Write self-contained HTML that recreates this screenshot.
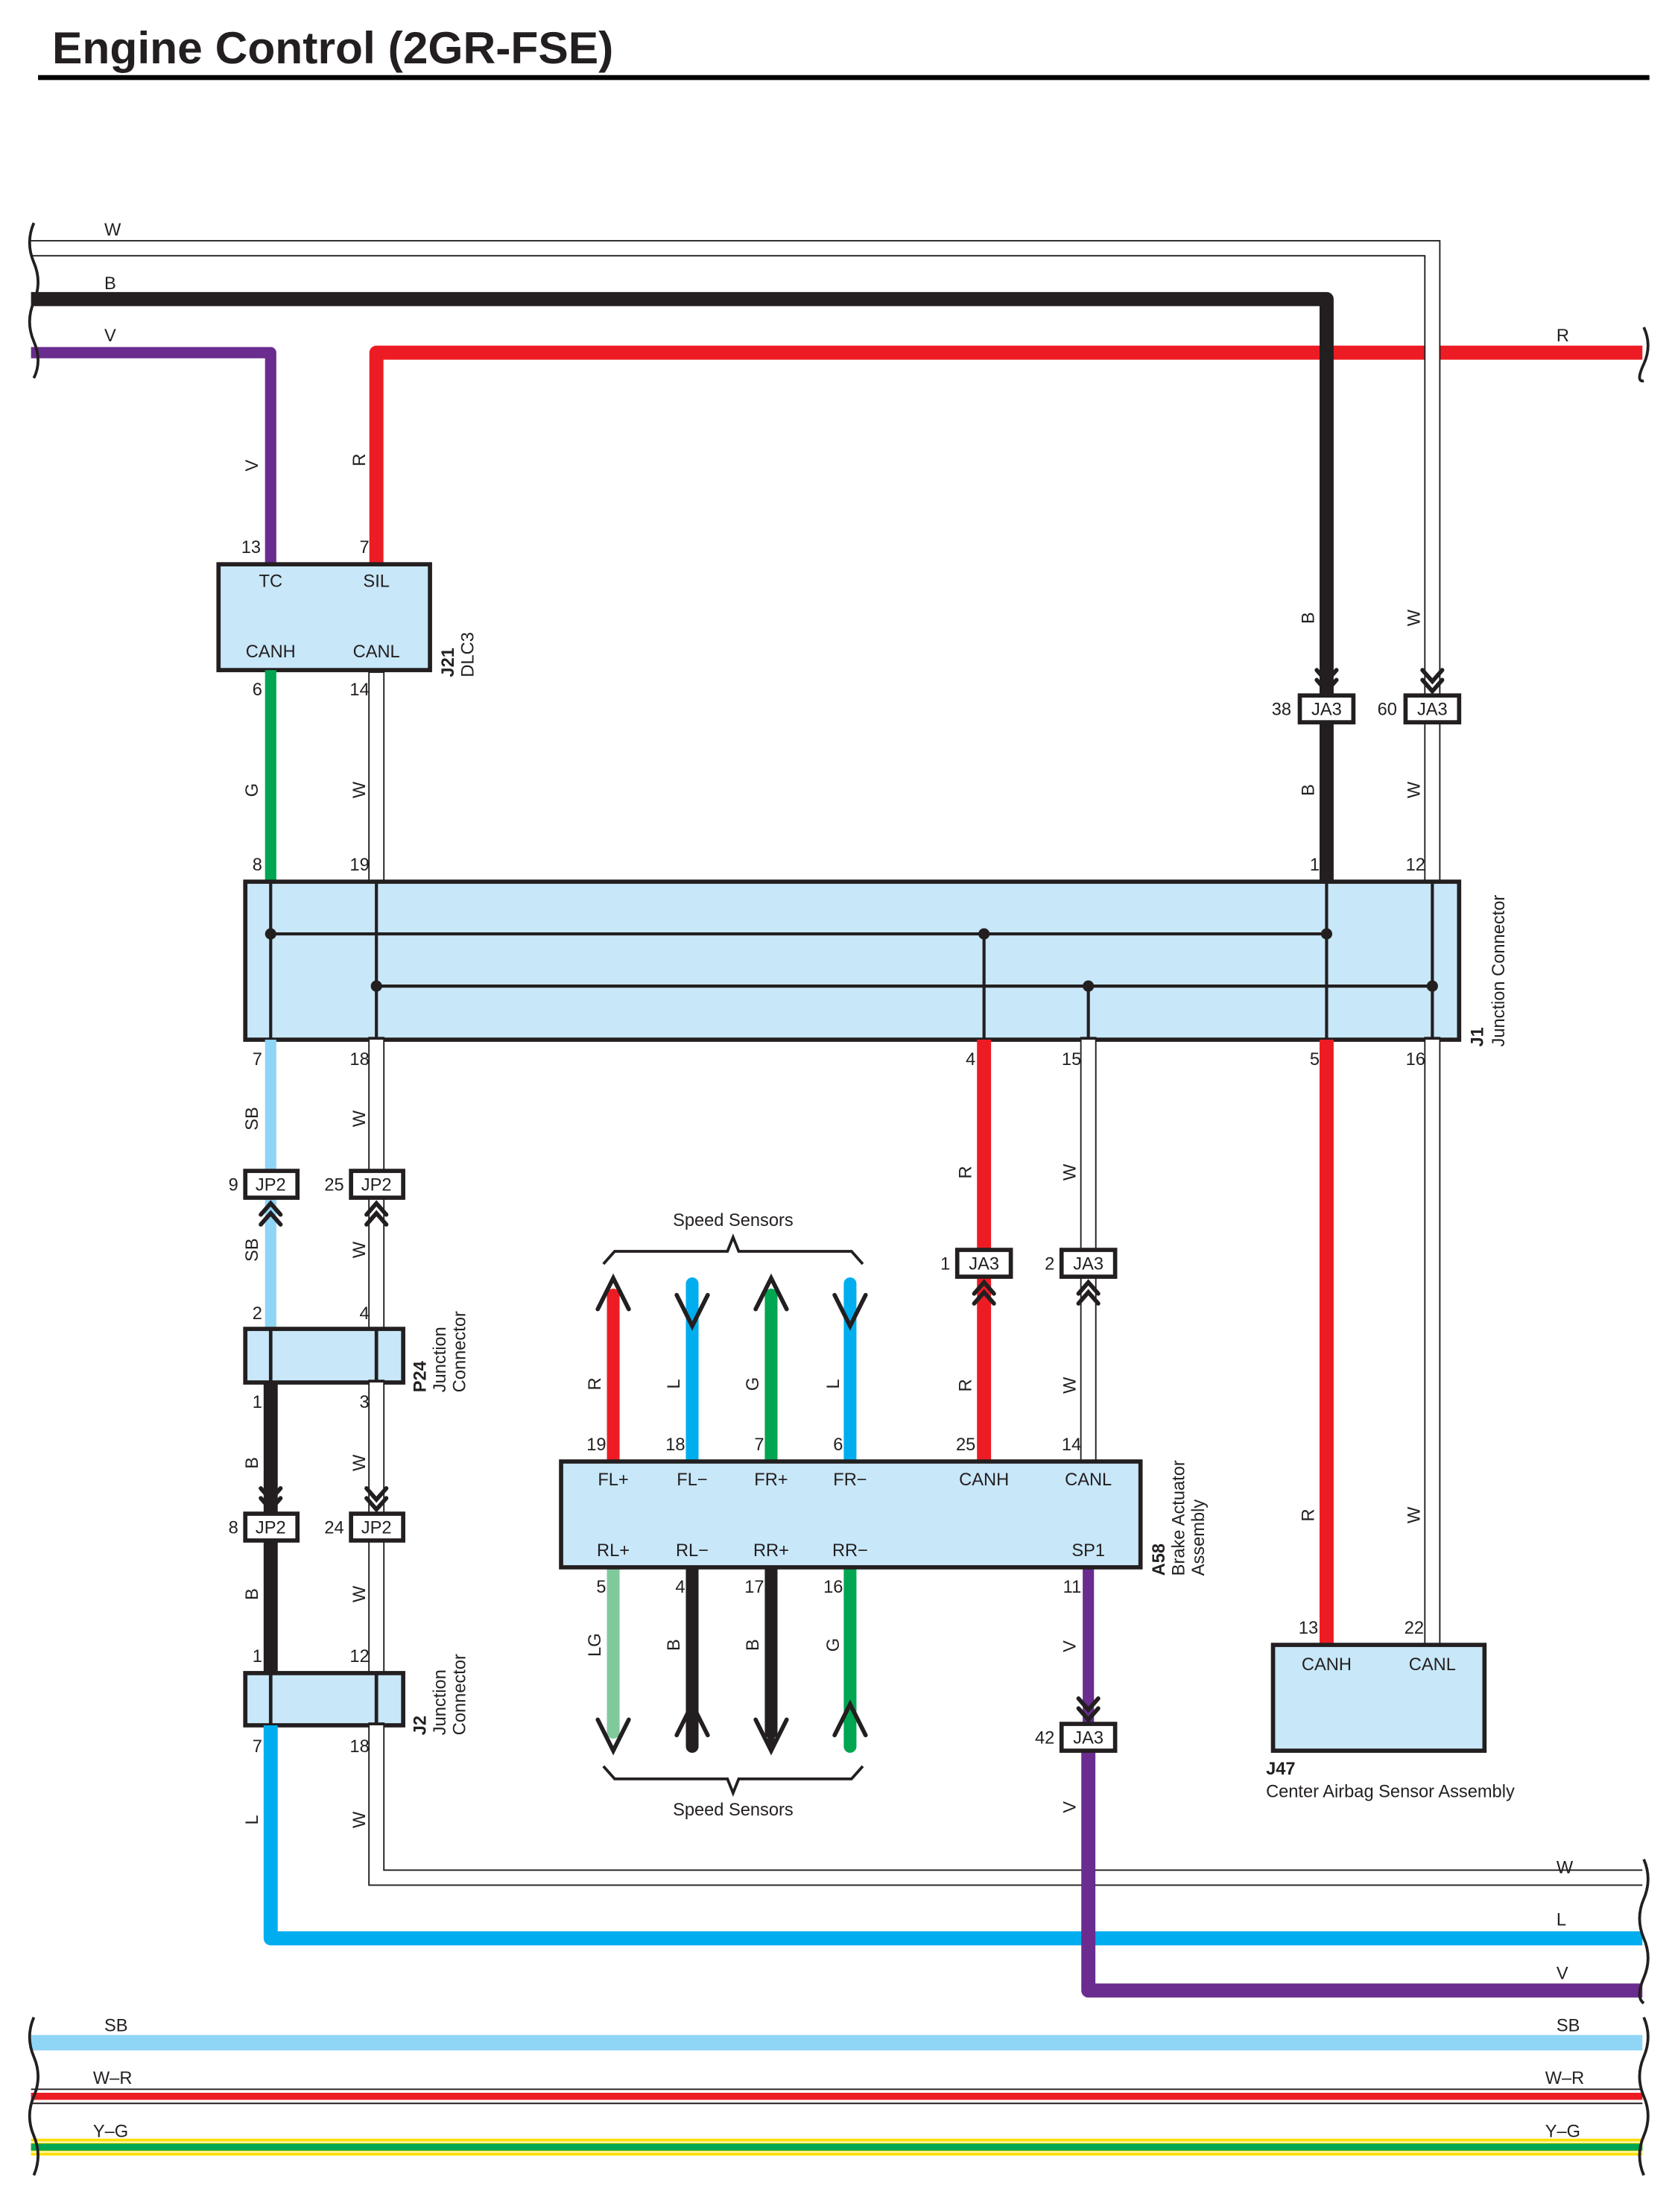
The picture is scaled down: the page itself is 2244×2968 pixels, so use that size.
<!DOCTYPE html>
<html><head><meta charset="utf-8"><style>
html,body{margin:0;padding:0;background:#fff}
svg{display:block}
text{font-family:"Liberation Sans",sans-serif;fill:#231f20;font-size:12.5px}
.b{font-weight:bold}
.box{fill:#c8e7f8;stroke:#231f20;stroke-width:3}
.jb{fill:#fff;stroke:#231f20;stroke-width:3}
.ch{fill:none;stroke:#231f20;stroke-width:3;stroke-linecap:round;stroke-linejoin:miter}
.wo{fill:none;stroke:#231f20;stroke-width:11.6}
.wi{fill:none;stroke:#fff;stroke-width:9.6}
.brk{fill:none;stroke:#231f20;stroke-width:2}
</style></head><body>
<svg width="2244" height="2968" viewBox="0 0 1186 1568" preserveAspectRatio="none" xmlns="http://www.w3.org/2000/svg">
<text x="37" y="45" class="b" style="font-size:32px">Engine Control (2GR-FSE)</text>
<line x1="27" y1="55" x2="1170" y2="55" stroke="#000" stroke-width="3.5"/>

<!-- top wires -->
<path d="M22 250 H192 V400" fill="none" stroke="#6a2c8f" stroke-width="8" stroke-linejoin="round"/>
<path d="M267 400 V250 H1165" fill="none" stroke="#ed1c24" stroke-width="10" stroke-linejoin="round"/>
<path d="M22 212 H941 V493" fill="none" stroke="#231f20" stroke-width="10" stroke-linejoin="round"/>
<path d="M22 176 H1016 V493" class="wo"/><path d="M22 176 H1016 V493" class="wi"/>
<path d="M941 512 V625" stroke="#231f20" stroke-width="10"/>
<path d="M1016 512 V625" class="wo"/><path d="M1016 512 V627" class="wi"/>

<text x="74" y="167">W</text><text x="74" y="205">B</text><text x="74" y="242">V</text><text x="1104" y="242">R</text>
<g transform="translate(183,330) rotate(-90)"><text text-anchor="middle">V</text></g>
<g transform="translate(259,326) rotate(-90)"><text text-anchor="middle">R</text></g>
<g transform="translate(932,438) rotate(-90)"><text text-anchor="middle">B</text></g>
<g transform="translate(1007,438) rotate(-90)"><text text-anchor="middle">W</text></g>
<g transform="translate(932,560) rotate(-90)"><text text-anchor="middle">B</text></g>
<g transform="translate(1007,560) rotate(-90)"><text text-anchor="middle">W</text></g>

<!-- JA3 top -->
<polyline class="ch" points="934,475 941,483 948,475"/><polyline class="ch" points="934,482 941,490 948,482"/>
<polyline class="ch" points="1009,475 1016,483 1023,475"/><polyline class="ch" points="1009,482 1016,490 1023,482"/>
<rect class="jb" x="922" y="493" width="38" height="19"/><text x="941" y="507" text-anchor="middle">JA3</text><text x="909" y="507" text-anchor="middle">38</text>
<rect class="jb" x="997" y="493" width="38" height="19"/><text x="1016" y="507" text-anchor="middle">JA3</text><text x="984" y="507" text-anchor="middle">60</text>

<!-- DLC3 -->
<rect class="box" x="155" y="400" width="150" height="75"/>
<text x="192" y="416" text-anchor="middle">TC</text><text x="267" y="416" text-anchor="middle">SIL</text>
<text x="192" y="466" text-anchor="middle">CANH</text><text x="267" y="466" text-anchor="middle">CANL</text>
<text x="185" y="392" text-anchor="end">13</text><text x="262" y="392" text-anchor="end">7</text>
<text x="186" y="493" text-anchor="end">6</text><text x="262" y="493" text-anchor="end">14</text>
<g transform="translate(322,480) rotate(-90)"><text class="b">J21</text><text y="14">DLC3</text></g>

<path d="M192 475 V625" stroke="#00a651" stroke-width="8"/>
<path d="M267 475 V625" class="wo"/><path d="M267 477 V627" class="wi"/>
<g transform="translate(183,560) rotate(-90)"><text text-anchor="middle">G</text></g>
<g transform="translate(259,560) rotate(-90)"><text text-anchor="middle">W</text></g>
<text x="186" y="617" text-anchor="end">8</text><text x="262" y="617" text-anchor="end">19</text>
<text x="936" y="617" text-anchor="end">1</text><text x="1011" y="617" text-anchor="end">12</text>

<!-- J1 -->
<rect class="box" x="174" y="625" width="861" height="112"/>
<g stroke="#231f20" stroke-width="2.2" fill="none">
<path d="M192 625V737M267 625V737M941 625V737M1016 625V737M698 662V737M772 699V737M192 662H941M267 699H1016"/>
</g>
<g fill="#231f20"><circle cx="192" cy="662" r="4"/><circle cx="698" cy="662" r="4"/><circle cx="941" cy="662" r="4"/><circle cx="267" cy="699" r="4"/><circle cx="772" cy="699" r="4"/><circle cx="1016" cy="699" r="4"/></g>
<g transform="translate(1052,742) rotate(-90)"><text class="b">J1</text><text y="15">Junction Connector</text></g>
<text x="186" y="755" text-anchor="end">7</text><text x="262" y="755" text-anchor="end">18</text>
<text x="692" y="755" text-anchor="end">4</text><text x="767" y="755" text-anchor="end">15</text>
<text x="936" y="755" text-anchor="end">5</text><text x="1011" y="755" text-anchor="end">16</text>

<!-- left column -->
<path d="M192 737 V942" stroke="#8fd5f5" stroke-width="8"/>
<path d="M267 735 V942" class="wo"/><path d="M267 737 V944" class="wi"/>
<g transform="translate(183,793) rotate(-90)"><text text-anchor="middle">SB</text></g>
<g transform="translate(259,793) rotate(-90)"><text text-anchor="middle">W</text></g>
<g transform="translate(183,886) rotate(-90)"><text text-anchor="middle">SB</text></g>
<g transform="translate(259,886) rotate(-90)"><text text-anchor="middle">W</text></g>
<rect class="jb" x="174" y="830" width="37" height="19"/><text x="192" y="844" text-anchor="middle">JP2</text><text x="169" y="844" text-anchor="end">9</text>
<rect class="jb" x="249" y="830" width="37" height="19"/><text x="267" y="844" text-anchor="middle">JP2</text><text x="244" y="844" text-anchor="end">25</text>
<polyline class="ch" points="185,861 192,853 199,861"/><polyline class="ch" points="185,868 192,860 199,868"/>
<polyline class="ch" points="260,861 267,853 274,861"/><polyline class="ch" points="260,868 267,860 274,868"/>

<text x="186" y="935" text-anchor="end">2</text><text x="262" y="935" text-anchor="end">4</text>
<rect class="box" x="174" y="942" width="112" height="38"/>
<path d="M192 942V980M267 942V980" stroke="#231f20" stroke-width="2.5"/>
<g transform="translate(302,987) rotate(-90)"><text class="b">P24</text><text y="14">Junction</text><text y="28">Connector</text></g>
<text x="186" y="998" text-anchor="end">1</text><text x="262" y="998" text-anchor="end">3</text>

<path d="M192 980 V1186" stroke="#231f20" stroke-width="10"/>
<path d="M267 978 V1186" class="wo"/><path d="M267 980 V1188" class="wi"/>
<polyline class="ch" points="185,1055 192,1063 199,1055"/><polyline class="ch" points="185,1062 192,1070 199,1062"/>
<polyline class="ch" points="260,1055 267,1063 274,1055"/><polyline class="ch" points="260,1062 267,1070 274,1062"/>
<rect class="jb" x="174" y="1073" width="37" height="19"/><text x="192" y="1087" text-anchor="middle">JP2</text><text x="169" y="1087" text-anchor="end">8</text>
<rect class="jb" x="249" y="1073" width="37" height="19"/><text x="267" y="1087" text-anchor="middle">JP2</text><text x="244" y="1087" text-anchor="end">24</text>
<g transform="translate(183,1037) rotate(-90)"><text text-anchor="middle">B</text></g>
<g transform="translate(259,1037) rotate(-90)"><text text-anchor="middle">W</text></g>
<g transform="translate(183,1130) rotate(-90)"><text text-anchor="middle">B</text></g>
<g transform="translate(259,1130) rotate(-90)"><text text-anchor="middle">W</text></g>
<text x="186" y="1178" text-anchor="end">1</text><text x="262" y="1178" text-anchor="end">12</text>

<rect class="box" x="174" y="1186" width="112" height="37"/>
<path d="M192 1186V1223M267 1186V1223" stroke="#231f20" stroke-width="2.5"/>
<g transform="translate(302,1230) rotate(-90)"><text class="b">J2</text><text y="14">Junction</text><text y="28">Connector</text></g>
<text x="186" y="1242" text-anchor="end">7</text><text x="262" y="1242" text-anchor="end">18</text>
<g transform="translate(183,1290) rotate(-90)"><text text-anchor="middle">L</text></g>
<g transform="translate(259,1290) rotate(-90)"><text text-anchor="middle">W</text></g>

<!-- bottom routed wires -->
<path d="M267 1221 V1331 H1165" class="wo"/><path d="M267 1223 V1331 H1167" class="wi"/>
<path d="M192 1223 V1374 H1165" fill="none" stroke="#00aeef" stroke-width="10" stroke-linejoin="round"/>
<path d="M772 1111 V1222" stroke="#6a2c8f" stroke-width="8"/>
<path d="M772 1242 V1411 H1165" fill="none" stroke="#6a2c8f" stroke-width="10" stroke-linejoin="round"/>
<polyline class="ch" points="765,1204 772,1212 779,1204"/><polyline class="ch" points="765,1211 772,1219 779,1211"/>
<rect class="jb" x="753" y="1222" width="38" height="19"/><text x="772" y="1236" text-anchor="middle">JA3</text><text x="748" y="1236" text-anchor="end">42</text>
<g transform="translate(763,1167) rotate(-90)"><text text-anchor="middle">V</text></g>
<g transform="translate(763,1281) rotate(-90)"><text text-anchor="middle">V</text></g>
<text x="1104" y="1328">W</text><text x="1104" y="1365">L</text><text x="1104" y="1403">V</text>

<!-- JA3 middle -->
<path d="M698 737 V1036" stroke="#ed1c24" stroke-width="10"/>
<path d="M772 735 V1036" class="wo"/><path d="M772 737 V1038" class="wi"/>
<rect class="jb" x="679" y="886" width="38" height="19"/><text x="698" y="900" text-anchor="middle">JA3</text><text x="674" y="900" text-anchor="end">1</text>
<rect class="jb" x="753" y="886" width="38" height="19"/><text x="772" y="900" text-anchor="middle">JA3</text><text x="748" y="900" text-anchor="end">2</text>
<polyline class="ch" points="691,917 698,909 705,917"/><polyline class="ch" points="691,924 698,916 705,924"/>
<polyline class="ch" points="765,917 772,909 779,917"/><polyline class="ch" points="765,924 772,916 779,924"/>
<g transform="translate(689,831) rotate(-90)"><text text-anchor="middle">R</text></g>
<g transform="translate(763,831) rotate(-90)"><text text-anchor="middle">W</text></g>
<g transform="translate(689,982) rotate(-90)"><text text-anchor="middle">R</text></g>
<g transform="translate(763,982) rotate(-90)"><text text-anchor="middle">W</text></g>

<!-- J47 wires -->
<path d="M941 737 V1166" stroke="#ed1c24" stroke-width="10"/>
<path d="M1016 735 V1166" class="wo"/><path d="M1016 737 V1168" class="wi"/>
<g transform="translate(932,1074) rotate(-90)"><text text-anchor="middle">R</text></g>
<g transform="translate(1007,1074) rotate(-90)"><text text-anchor="middle">W</text></g>
<text x="935" y="1158" text-anchor="end">13</text><text x="1010" y="1158" text-anchor="end">22</text>
<rect class="box" x="903" y="1166" width="150" height="75"/>
<text x="941" y="1184" text-anchor="middle">CANH</text><text x="1016" y="1184" text-anchor="middle">CANL</text>
<text x="898" y="1258" class="b">J47</text><text x="898" y="1274">Center Airbag Sensor Assembly</text>

<!-- speed sensor wires -->
<g stroke-width="9" stroke-linecap="round" fill="none">
<path d="M435 918 V1036" stroke="#ed1c24"/>
<path d="M491 910 V1036" stroke="#00aeef"/>
<path d="M547 918 V1036" stroke="#00a651"/>
<path d="M603 910 V1036" stroke="#00aeef"/>
<path d="M435 1111 V1228" stroke="#80c99d"/>
<path d="M491 1111 V1238" stroke="#231f20"/>
<path d="M547 1111 V1228" stroke="#231f20"/>
<path d="M603 1111 V1238" stroke="#00a651"/>
</g>
<g class="ch" stroke-width="3.5">
<polyline class="ch" points="424,928 435,906 446,928"/>
<polyline class="ch" points="480,918 491,940 502,918"/>
<polyline class="ch" points="536,928 547,906 558,928"/>
<polyline class="ch" points="592,918 603,940 614,918"/>
<polyline class="ch" points="424,1219 435,1241 446,1219"/>
<polyline class="ch" points="480,1230 491,1208 502,1230"/>
<polyline class="ch" points="536,1219 547,1241 558,1219"/>
<polyline class="ch" points="592,1230 603,1208 614,1230"/>
</g>
<path d="M547 1215 V1238" stroke="#231f20" stroke-width="5"/>
<g transform="translate(426,981) rotate(-90)"><text text-anchor="middle">R</text></g>
<g transform="translate(482,981) rotate(-90)"><text text-anchor="middle">L</text></g>
<g transform="translate(538,981) rotate(-90)"><text text-anchor="middle">G</text></g>
<g transform="translate(595,981) rotate(-90)"><text text-anchor="middle">L</text></g>
<g transform="translate(426,1166) rotate(-90)"><text text-anchor="middle">LG</text></g>
<g transform="translate(482,1166) rotate(-90)"><text text-anchor="middle">B</text></g>
<g transform="translate(538,1166) rotate(-90)"><text text-anchor="middle">B</text></g>
<g transform="translate(595,1166) rotate(-90)"><text text-anchor="middle">G</text></g>
<path d="M428 896 L436 887 H516 L520 877 L524 887 H604 L612 896" fill="none" stroke="#231f20" stroke-width="2"/>
<text x="520" y="869" text-anchor="middle">Speed Sensors</text>
<path d="M428 1252 L436 1261 H516 L520 1271 L524 1261 H604 L612 1252" fill="none" stroke="#231f20" stroke-width="2"/>
<text x="520" y="1287" text-anchor="middle">Speed Sensors</text>

<!-- A58 -->
<rect class="box" x="398" y="1036" width="411" height="75"/>
<text x="435" y="1053" text-anchor="middle">FL+</text><text x="491" y="1053" text-anchor="middle">FL−</text>
<text x="547" y="1053" text-anchor="middle">FR+</text><text x="603" y="1053" text-anchor="middle">FR−</text>
<text x="698" y="1053" text-anchor="middle">CANH</text><text x="772" y="1053" text-anchor="middle">CANL</text>
<text x="435" y="1103" text-anchor="middle">RL+</text><text x="491" y="1103" text-anchor="middle">RL−</text>
<text x="547" y="1103" text-anchor="middle">RR+</text><text x="603" y="1103" text-anchor="middle">RR−</text>
<text x="772" y="1103" text-anchor="middle">SP1</text>
<text x="430" y="1028" text-anchor="end">19</text><text x="486" y="1028" text-anchor="end">18</text>
<text x="542" y="1028" text-anchor="end">7</text><text x="598" y="1028" text-anchor="end">6</text>
<text x="692" y="1028" text-anchor="end">25</text><text x="767" y="1028" text-anchor="end">14</text>
<text x="430" y="1129" text-anchor="end">5</text><text x="486" y="1129" text-anchor="end">4</text>
<text x="542" y="1129" text-anchor="end">17</text><text x="598" y="1129" text-anchor="end">16</text>
<text x="767" y="1129" text-anchor="end">11</text>
<g transform="translate(826,1117) rotate(-90)"><text class="b">A58</text><text y="14">Brake Actuator</text><text y="28">Assembly</text></g>

<!-- bottom bus wires -->
<path d="M22 1448 H1165" stroke="#8fd5f5" stroke-width="11"/>
<path d="M22 1481 H1165 M22 1491 H1165" stroke="#231f20" stroke-width="1"/>
<path d="M22 1486 H1165" stroke="#ed1c24" stroke-width="5"/>
<path d="M22 1522 H1165" stroke="#ffde00" stroke-width="12"/>
<path d="M22 1522 H1165" stroke="#00a651" stroke-width="5"/>
<path d="M22 1518.5 H1165 M22 1525.5 H1165" stroke="#fff" stroke-width="0.8"/>
<text x="74" y="1440">SB</text><text x="1104" y="1440">SB</text>
<text x="66" y="1477">W–R</text><text x="1096" y="1477">W–R</text>
<text x="66" y="1515">Y–G</text><text x="1096" y="1515">Y–G</text>

<!-- break marks -->
<g class="brk">
<path d="M24 158 Q18 172 24 186 T24 214 T24 242 T24 268"/>
<path d="M1166 232 Q1172 245 1166 258 T1166 270"/>
<path d="M1166 1318 Q1172 1332 1166 1346 T1166 1374 T1166 1402 T1166 1420"/>
<path d="M24 1430 Q18 1444 24 1458 T24 1486 T24 1514 T24 1542"/>
<path d="M1166 1430 Q1172 1444 1166 1458 T1166 1486 T1166 1514 T1166 1542"/>
</g>
</svg>
</body></html>
